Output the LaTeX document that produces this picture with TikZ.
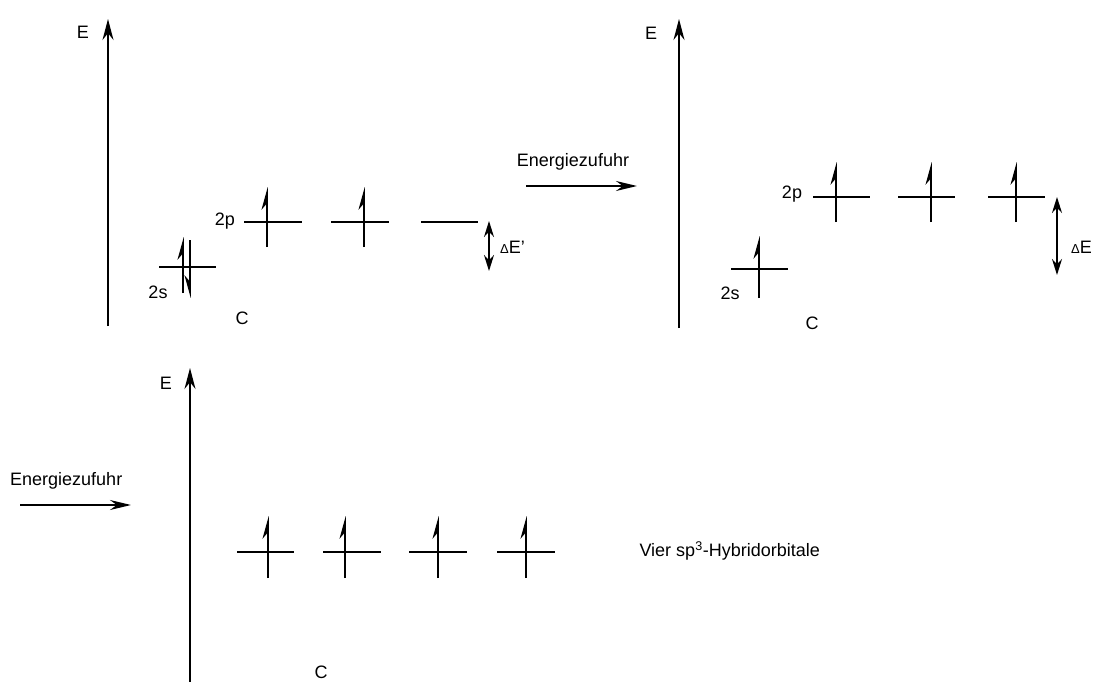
\documentclass[tikz,border=0pt]{standalone}
\usepackage{fontspec}
\setmainfont{Liberation Sans}
\usetikzlibrary{arrows.meta}
\begin{document}
\begin{tikzpicture}[x=1pt,y=-1pt,
  lbl/.style={inner sep=0pt,font=\fontsize{18}{21}\selectfont},
  axis/.style={line width=1.5pt,-{Stealth[length=21pt,width=11pt]}},
  lvl/.style={line width=1.5pt},
  eup/.style={line width=1.5pt,-{Stealth[harpoon,length=20pt,width=11pt]}},
  edown/.style={line width=1.5pt,-{Stealth[harpoon,swap,length=20pt,width=11pt]}},
  dbl/.style={line width=1.5pt,{Stealth[length=16pt,width=10pt]}-{Stealth[length=16pt,width=10pt]}},
  rxn/.style={line width=1.5pt,-{Stealth[length=21pt,width=10pt]}}
]
\useasboundingbox (0,0) rectangle (1101,682);

% ---------- top left ----------
\coordinate (a1b) at (108,326); \coordinate (a1t) at (108,19);
\draw[axis] (a1b) -- (a1t);
\node[lbl] (E1) at (83,32) {E};
% 2s
\coordinate (s1l) at (159,267); \coordinate (s1r) at (216,267);
\draw[lvl] (s1l) -- (s1r);
\coordinate (s1u0) at (183,293); \coordinate (s1u1) at (183,237);
\draw[eup] (s1u0) -- (s1u1);
\coordinate (s1d0) at (190,240); \coordinate (s1d1) at (190,298);
\draw[edown] (s1d0) -- (s1d1);
\node[lbl] (l2s1) at (158,292) {2s};
% 2p
\node[lbl] (l2p1) at (225,221) {2p};
\coordinate (p11l) at (244,222); \coordinate (p11r) at (302,222);
\draw[lvl] (p11l) -- (p11r);
\coordinate (p11a) at (267,247); \coordinate (p11b) at (267,187);
\draw[eup] (p11a) -- (p11b);
\coordinate (p12l) at (331,222); \coordinate (p12r) at (389,222);
\draw[lvl] (p12l) -- (p12r);
\coordinate (p12a) at (364,247); \coordinate (p12b) at (364,187);
\draw[eup] (p12a) -- (p12b);
\coordinate (p13l) at (421,222); \coordinate (p13r) at (478,222);
\draw[lvl] (p13l) -- (p13r);
% Delta E'
\coordinate (d1t) at (489,221); \coordinate (d1b) at (489,271);
\draw[dbl] (d1t) -- (d1b);
\node[lbl,anchor=west] (dE1) at (500,247) {{\fontsize{13}{15}\selectfont Δ}E'};
\node[lbl] (C1) at (242,318) {C};

% reaction arrow top
\node[lbl] (en1) at (573,162) {Energiezufuhr};
\coordinate (r1a) at (526,186); \coordinate (r1b) at (637,186);
\draw[rxn] (r1a) -- (r1b);

% ---------- top right ----------
\coordinate (a2b) at (679,328); \coordinate (a2t) at (679,19);
\draw[axis] (a2b) -- (a2t);
\node[lbl] (E2) at (651,33) {E};
\coordinate (s2l) at (731,269); \coordinate (s2r) at (788,269);
\draw[lvl] (s2l) -- (s2r);
\coordinate (s2a) at (759,298); \coordinate (s2b) at (759,236);
\draw[eup] (s2a) -- (s2b);
\node[lbl] (l2s2) at (730,293) {2s};
\node[lbl] (l2p2) at (792,194) {2p};
\coordinate (p21l) at (813,197); \coordinate (p21r) at (870,197);
\draw[lvl] (p21l) -- (p21r);
\coordinate (p21a) at (836,222); \coordinate (p21b) at (836,162);
\draw[eup] (p21a) -- (p21b);
\coordinate (p22l) at (898,197); \coordinate (p22r) at (955,197);
\draw[lvl] (p22l) -- (p22r);
\coordinate (p22a) at (931,222); \coordinate (p22b) at (931,162);
\draw[eup] (p22a) -- (p22b);
\coordinate (p23l) at (988,197); \coordinate (p23r) at (1045,197);
\draw[lvl] (p23l) -- (p23r);
\coordinate (p23a) at (1016,222); \coordinate (p23b) at (1016,162);
\draw[eup] (p23a) -- (p23b);
\coordinate (d2t) at (1057,197); \coordinate (d2b) at (1057,275);
\draw[dbl] (d2t) -- (d2b);
\node[lbl,anchor=west] (dE2) at (1071,247) {{\fontsize{13}{15}\selectfont Δ}E};
\node[lbl] (C2) at (812,323) {C};

% ---------- bottom ----------
\node[lbl,anchor=west] (en2) at (10,481) {Energiezufuhr};
\coordinate (r2a) at (20,505); \coordinate (r2b) at (131,505);
\draw[rxn] (r2a) -- (r2b);
\coordinate (a3b) at (190,682); \coordinate (a3t) at (190,368);
\draw[axis] (a3b) -- (a3t);
\node[lbl] (E3) at (166,383) {E};
\foreach \i/\l/\r/\v in {1/237/294/268, 2/323/381/345, 3/409/467/438, 4/497/555/526}{
  \coordinate (h\i l) at (\l,552); \coordinate (h\i r) at (\r,552);
  \draw[lvl] (h\i l) -- (h\i r);
  \coordinate (h\i a) at (\v,578); \coordinate (h\i b) at (\v,516);
  \draw[eup] (h\i a) -- (h\i b);
}
\node[lbl,anchor=east] (hyb) at (820,551) {Vier sp\textsuperscript{3}-Hybridorbitale};
\node[lbl] (C3) at (321,672) {C};
\end{tikzpicture}
\end{document}
